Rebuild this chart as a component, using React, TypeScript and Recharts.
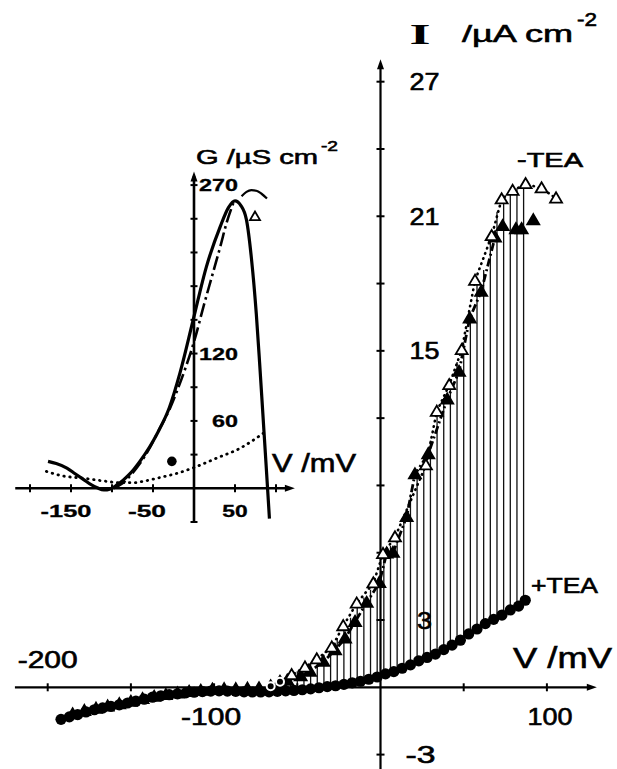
import React from "react";
import {
  ComposedChart,
  XAxis,
  YAxis,
  Scatter,
  Line,
  ErrorBar,
  ReferenceLine,
  ReferenceDot,
} from "recharts";

// ---------------- Main panel: I (µA cm^-2) vs V (mV) ----------------
const plusTeaV = [-192, -187, -182, -177, -172, -167, -162, -157, -152, -147, -142, -137, -132, -127, -122, -117, -112, -107, -102, -97, -92, -87, -82, -77, -72, -67, -62, -57, -52, -47, -42, -37, -32, -27, -22, -17, -12, -7, -2, 3, 8, 13, 18, 23, 28, 33, 38, 43, 48, 53, 58, 63, 68, 73, 78, 83, 87];
const plusTeaI = [-1.43, -1.32, -1.22, -1.1, -1.0, -0.92, -0.85, -0.78, -0.7, -0.62, -0.53, -0.44, -0.38, -0.33, -0.29, -0.25, -0.22, -0.19, -0.17, -0.16, -0.17, -0.18, -0.2, -0.21, -0.21, -0.2, -0.18, -0.16, -0.14, -0.11, -0.07, -0.02, 0.03, 0.07, 0.13, 0.2, 0.27, 0.36, 0.46, 0.6, 0.7, 0.85, 1.0, 1.18, 1.33, 1.48, 1.68, 1.88, 2.1, 2.38, 2.6, 2.84, 3.03, 3.22, 3.45, 3.62, 3.88];

const minusTeaFilledV = [-185, -178, -171, -164, -157, -150, -143, -136, -129, -122, -115, -108, -101, -94, -87, -80, -73, -66, -56, -48, -42.4, -34.4, -27.3, -21.3, -15.3, -8.3, -0.7, 3.7, 7.5, 15.7, 20.7, 28.7, 40.1, 47.2, 53.6, 60.5, 68.8, 73.4, 81.4, 84.8, 91.8];
const minusTeaFilledI = [-1.2, -1.05, -0.95, -0.85, -0.75, -0.64, -0.52, -0.42, -0.34, -0.27, -0.2, -0.15, -0.1, -0.08, -0.08, -0.06, -0.04, 0.05, 0.3, 0.5, 0.7, 1.14, 1.66, 2.18, 2.92, 3.77, 4.66, 5.97, 6.0, 7.6, 9.5, 10.4, 12.84, 14.07, 16.45, 17.64, 20.06, 20.57, 20.43, 20.43, 20.83];

const minusTeaOpenV = [-60.4, -53.4, -45.4, -38.3, -29.3, -22.4, -14.3, -4.3, 1.5, 8.7, 27.3, 33.8, 41.3, 48.8, 56.8, 66.8, 72.8, 79.4, 87.2, 96.8, 105.5];
const minusTeaOpenI = [0.25, 0.55, 0.89, 1.25, 1.78, 2.73, 3.74, 4.64, 5.95, 6.69, 9.9, 12.29, 13.48, 15.04, 18.13, 20.12, 21.76, 22.14, 22.44, 22.25, 21.8];

// vertical hatching between the +TEA and -TEA curves
const hatchV = [-62, -58, -54, -50, -46, -42, -38, -34, -30, -26, -22, -18, -14, -10, -6, -2, 2, 6, 10, 14, 18, 22, 26, 30, 34, 38, 42, 46, 50, 54, 58, 62, 66, 70, 74, 78, 82, 86];
const hatchLow = [-0.18, -0.17, -0.15, -0.13, -0.11, -0.07, -0.03, 0.01, 0.05, 0.09, 0.13, 0.19, 0.25, 0.31, 0.38, 0.45, 0.55, 0.65, 0.76, 0.88, 1.0, 1.12, 1.26, 1.38, 1.55, 1.7, 1.85, 2.0, 2.2, 2.45, 2.65, 2.82, 2.98, 3.12, 3.3, 3.48, 3.62, 3.8];
const hatchHigh = [0.2, 0.35, 0.55, 0.72, 0.87, 1.05, 1.25, 1.45, 1.72, 2.2, 2.7, 3.1, 3.7, 4.0, 4.35, 4.65, 5.9, 6.3, 6.8, 7.5, 8.6, 9.5, 9.9, 11.0, 12.3, 12.9, 13.6, 14.5, 15.3, 16.5, 18.0, 18.6, 20.1, 21.2, 21.8, 22.1, 22.25, 22.4];

const mainXTicks = [-200, -150, -100, -50, 50, 100];
const mainYTicks = [-3, 3, 6, 9, 12, 15, 18, 21, 24, 27];
const mainXLabels = ["-200", "-100", "100"];
const mainYLabels = ["27", "21", "15", "3", "-3"];

// ---------------- Inset: G (µS cm^-2) vs V (mV) ----------------
const solidV = [-178, -168, -155, -145, -135, -125, -118, -110, -102, -94, -86, -78, -66, -54, -44, -30, -17, -1, 15, 32, 42, 50, 57, 64, 70, 76, 80, 84, 88, 92];
const solidG = [24, 22, 18, 13, 8, 3, 0.5, -1.5, -0.5, 3, 7.5, 13, 24, 37, 50, 72, 103, 150, 197, 233, 250, 256, 252, 239, 205, 155, 112, 66, 20, -27];

const dashDotV = [-98, -88, -78, -66, -54, -42, -30, -20, -10, 1, 12, 22, 32, 40, 48];
const dashDotG = [0, 4, 11, 22, 36, 53, 70, 88, 108, 133, 163, 189, 215, 237, 254];

const dottedV = [-180, -160, -135, -110, -90, -74, -60, -45, -20, 0, 28, 56, 90];
const dottedG = [15, 11, 9, 6.5, 5, 5, 6.5, 9, 13.5, 18.5, 27, 35.6, 52];

const arcV = [58, 64, 70, 76, 82, 89];
const arcG = [260, 264, 265.5, 265, 262.5, 258];

const insetCircleV = [-27];
const insetCircleG = [24];
const insetTriangleV = [74.4];
const insetTriangleG = [242];

const insetXTicks = [-200, -150, -100, -50, 50, 100];
const insetYTicks = [-30, 30, 60, 90, 120, 150, 180, 210, 240, 270];
const insetXLabels = ["-150", "-50", "50"];
const insetYLabels = ["270", "120", "60"];

// ---------------- layout (pixels) ----------------
const W = 617;
const H = 769;
const M = { x0: 380.5, kx: 1.664, y0: 687.3, ky: 22.43 };
const mainXDomain: [number, number] = [-M.x0 / M.kx, (W - M.x0) / M.kx];
const mainYDomain: [number, number] = [(M.y0 - H) / M.ky, M.y0 / M.ky];

const IW = 360;
const IH = 380;
const ITOP = 150;
const N = { x0: 194, kx: 0.82, y0: 488.3 - ITOP, ky: 1.123 };
const insetXDomain: [number, number] = [-N.x0 / N.kx, (IW - N.x0) / N.kx];
const insetYDomain: [number, number] = [(N.y0 - IH) / N.ky, N.y0 / N.ky];

const mainXLabelOffset: Record<string, { dx: number; dy: number }> = {
  "-200": { dx: 0, dy: -19 },
  "-100": { dx: -3, dy: 38 },
  "100": { dx: 3, dy: 38 },
};
const mainYLabelOffset: Record<string, { dx: number; dy: number }> = {
  "27": { dx: 44, dy: 8.5 },
  "21": { dx: 44, dy: 8.5 },
  "15": { dx: 44, dy: 8.5 },
  "3": { dx: 44, dy: 8.5 },
  "-3": { dx: 40, dy: 8.5 },
};
const insetXLabelOffset: Record<string, { dx: number; dy: number }> = {
  "-150": { dx: -5, dy: 28.5 },
  "-50": { dx: -6, dy: 28.5 },
  "50": { dx: 0, dy: 28.5 },
};

const FONT = "'Liberation Sans', Arial, Helvetica, sans-serif";

const zip = (xs: number[], ys: number[]) => xs.map((x, i) => ({ x, y: ys[i] }));

// ---------------- shapes ----------------
const Nothing = () => <g />;

const triangle = (filled: boolean, s = 6) => (p: any) => {
  const { cx, cy } = p;
  if (cx == null || cy == null) return <g />;
  const pts = `${cx},${cy - s * 1.0} ${cx - s},${cy + s * 0.7} ${cx + s},${cy + s * 0.7}`;
  return (
    <polygon
      points={pts}
      fill={filled ? "#000" : "#fff"}
      stroke="#000"
      strokeWidth={1.8}
    />
  );
};

const dot = (r: number) => (p: any) => {
  const { cx, cy } = p;
  if (cx == null || cy == null) return <g />;
  return <circle cx={cx} cy={cy} r={r} fill="#000" />;
};

const vTick = (len: number, w: number) => (p: any) => (
  <line x1={p.cx} x2={p.cx} y1={p.cy - len} y2={p.cy + len} stroke="#000" strokeWidth={w} />
);
const hTick = (len: number, w: number) => (p: any) => (
  <line x1={p.cx - len} x2={p.cx + len} y1={p.cy} y2={p.cy} stroke="#000" strokeWidth={w} />
);

const textShape =
  (fontSize: number, charW: number, anchor: "start" | "middle" | "end", weight: string, sw: number) =>
  (p: any) => {
    const t = p.payload;
    return (
      <text
        x={p.cx + t.dx}
        y={p.cy + t.dy}
        fontSize={fontSize}
        fontFamily={FONT}
        fontWeight={weight}
        textAnchor={anchor}
        textLength={charW * t.text.length}
        lengthAdjust="spacingAndGlyphs"
        fill="#000"
        stroke="#000"
        strokeWidth={sw}
      >
        {t.text}
      </text>
    );
  };

const arrowUp = (p: any) => (
  <polygon
    points={`${p.cx},${p.cy} ${p.cx - 3.5},${p.cy + 10} ${p.cx + 3.5},${p.cy + 10}`}
    fill="#000"
  />
);
const arrowRight = (p: any) => (
  <polygon
    points={`${p.cx},${p.cy} ${p.cx - 10},${p.cy - 3.5} ${p.cx - 10},${p.cy + 3.5}`}
    fill="#000"
  />
);

// ---------------- derived series ----------------
const plusTea = zip(plusTeaV, plusTeaI);
const filledTri = zip(minusTeaFilledV, minusTeaFilledI);
const openTri = zip(minusTeaOpenV, minusTeaOpenI);
const dashDotMain = filledTri.filter((d) => d.x >= -66 && d.x <= 70);
const hatch = hatchV.map((v, i) => ({ x: v, y: hatchLow[i], e: [0, hatchHigh[i] - hatchLow[i]] }));

const mainXTickData = mainXTicks.map((v) => ({ x: v, y: 0 }));
const mainYTickData = mainYTicks.map((v) => ({ x: 0, y: v }));
const mainXLabelData = mainXLabels.map((t) => ({ x: Number(t), y: 0, text: t, ...mainXLabelOffset[t] }));
const mainYLabelData = mainYLabels.map((t) => ({ x: 0, y: Number(t), text: t, ...mainYLabelOffset[t] }));

const solid = zip(solidV, solidG);
const dashDot = zip(dashDotV, dashDotG);
const dotted = zip(dottedV, dottedG);
const arc = zip(arcV, arcG);
const insetCircle = zip(insetCircleV, insetCircleG);
const insetTriangle = zip(insetTriangleV, insetTriangleG);
const insetXTickData = insetXTicks.map((v) => ({ x: v, y: 0 }));
const insetYTickData = insetYTicks.map((v) => ({ x: 0, y: v }));
const insetXLabelData = insetXLabels.map((t) => ({ x: Number(t), y: 0, text: t, ...insetXLabelOffset[t] }));
const insetYLabelData = insetYLabels.map((t) => ({ x: 0, y: Number(t), text: t, dx: 44, dy: 6 }));

// axis extents (in data units)
const mainXAxisEnd = 130;
const mainXAxisStart = -219.7;
const mainYAxisTop = 28.0;
const insetXAxisStart = -218;
const insetXAxisEnd = 123;
const insetYAxisBottom = -31;
const insetYAxisTop = 282;

const TS = { stroke: "#000", strokeWidth: 0.6 };

export default function App() {
  return (
    <div
      style={{
        position: "absolute",
        left: 0,
        top: 0,
        width: W,
        height: H,
        background: "#fff",
        overflow: "hidden",
      }}
    >
      {/* main panel */}
      <div style={{ position: "absolute", left: 0, top: 0 }}>
        <ComposedChart width={W} height={H} margin={{ top: 0, right: 0, bottom: 0, left: 0 }}>
          <XAxis type="number" dataKey="x" domain={mainXDomain} allowDataOverflow hide />
          <YAxis type="number" dataKey="y" domain={mainYDomain} allowDataOverflow hide />
          <ReferenceLine
            segment={[{ x: mainXAxisStart, y: 0 }, { x: mainXAxisEnd - 4, y: 0 }]}
            stroke="#000"
            strokeWidth={2.2}
            ifOverflow="visible"
          />
          <ReferenceLine
            segment={[{ x: 0, y: mainYDomain[0] }, { x: 0, y: mainYAxisTop - 0.2 }]}
            stroke="#000"
            strokeWidth={2.2}
            ifOverflow="visible"
          />
          <Scatter data={mainXTickData} shape={vTick(4, 2)} isAnimationActive={false} />
          <Scatter data={mainYTickData} shape={hTick(4, 2)} isAnimationActive={false} />
          <Scatter data={mainXLabelData} shape={textShape(23, 15, "middle", "normal", 0.6)} isAnimationActive={false} />
          <Scatter data={mainYLabelData} shape={textShape(23, 15, "middle", "normal", 0.6)} isAnimationActive={false} />
          <Scatter data={hatch} shape={Nothing} isAnimationActive={false}>
            <ErrorBar dataKey="e" direction="y" width={0} stroke="#111" strokeWidth={1.3} isAnimationActive={false} />
          </Scatter>
          <Scatter data={plusTea} shape={dot(5.6)} isAnimationActive={false} />
          <Line
            data={openTri}
            dataKey="y"
            type="linear"
            stroke="#000"
            strokeWidth={2.6}
            strokeLinecap="round"
            strokeDasharray="0.5 5"
            dot={false}
            isAnimationActive={false}
          />
          <Line
            data={dashDotMain}
            dataKey="y"
            type="linear"
            stroke="#000"
            strokeWidth={2.8}
            strokeDasharray="8 3 2 3"
            dot={false}
            isAnimationActive={false}
          />
          <Scatter data={filledTri} shape={triangle(true)} isAnimationActive={false} />
          <Scatter data={openTri} shape={triangle(false)} isAnimationActive={false} />
          <ReferenceDot x={mainXAxisEnd} y={0} shape={arrowRight} ifOverflow="visible" />
          <ReferenceDot x={0} y={mainYAxisTop} shape={arrowUp} ifOverflow="visible" />
        </ComposedChart>
      </div>

      {/* inset panel */}
      <div style={{ position: "absolute", left: 0, top: ITOP }}>
        <ComposedChart width={IW} height={IH} margin={{ top: 0, right: 0, bottom: 0, left: 0 }}>
          <XAxis type="number" dataKey="x" domain={insetXDomain} allowDataOverflow hide />
          <YAxis type="number" dataKey="y" domain={insetYDomain} allowDataOverflow hide />
          <ReferenceLine
            segment={[{ x: insetXAxisStart, y: 0 }, { x: insetXAxisEnd - 6, y: 0 }]}
            stroke="#000"
            strokeWidth={2.6}
            ifOverflow="visible"
          />
          <ReferenceLine
            segment={[{ x: 0, y: insetYAxisBottom }, { x: 0, y: insetYAxisTop - 4 }]}
            stroke="#000"
            strokeWidth={2.6}
            ifOverflow="visible"
          />
          <Scatter data={insetXTickData} shape={vTick(4, 2)} isAnimationActive={false} />
          <Scatter data={insetYTickData} shape={hTick(3.5, 2)} isAnimationActive={false} />
          <Scatter data={insetXLabelData} shape={textShape(17, 12.7, "middle", "bold", 0.3)} isAnimationActive={false} />
          <Scatter data={insetYLabelData} shape={textShape(17, 13, "end", "bold", 0.3)} isAnimationActive={false} />
          <Line
            data={dotted}
            dataKey="y"
            type="monotone"
            stroke="#000"
            strokeWidth={2.8}
            strokeLinecap="round"
            strokeDasharray="0.5 5.5"
            dot={false}
            isAnimationActive={false}
          />
          <Line
            data={dashDot}
            dataKey="y"
            type="monotone"
            stroke="#000"
            strokeWidth={2.6}
            strokeDasharray="14 4 2.5 4"
            dot={false}
            isAnimationActive={false}
          />
          <Line
            data={solid}
            dataKey="y"
            type="monotone"
            stroke="#000"
            strokeWidth={3.2}
            dot={false}
            isAnimationActive={false}
          />
          <Line
            data={arc}
            dataKey="y"
            type="monotone"
            stroke="#000"
            strokeWidth={2.2}
            dot={false}
            isAnimationActive={false}
          />
          <Scatter data={insetCircle} shape={dot(4.8)} isAnimationActive={false} />
          <Scatter data={insetTriangle} shape={triangle(false, 5)} isAnimationActive={false} />
          <ReferenceDot x={insetXAxisEnd} y={0} shape={arrowRight} ifOverflow="visible" />
          <ReferenceDot x={0} y={insetYAxisTop} shape={arrowUp} ifOverflow="visible" />
        </ComposedChart>
      </div>

      {/* axis titles */}
      <svg
        width={W}
        height={H}
        style={{ position: "absolute", left: 0, top: 0, pointerEvents: "none" }}
      >
        <g fontFamily={FONT} fill="#000">
          <text x={420} y={44} textAnchor="middle" fontFamily="'Liberation Serif', 'DejaVu Serif', serif" fontWeight="bold" fontSize={30} textLength={21} lengthAdjust="spacingAndGlyphs">
            I
          </text>
          <text x={462} y={42} fontSize={24} textLength={111} lengthAdjust="spacingAndGlyphs" {...TS}>
            /µA cm
          </text>
          <text x={577} y={26} fontSize={18} textLength={20} lengthAdjust="spacingAndGlyphs" {...TS}>
            -2
          </text>
          <text x={517} y={167} fontSize={19.5} textLength={66} lengthAdjust="spacingAndGlyphs" {...TS}>
            -TEA
          </text>
          <text x={531} y={593} fontSize={22} textLength={67} lengthAdjust="spacingAndGlyphs" {...TS}>
            +TEA
          </text>
          <text x={513} y={668} fontSize={30} textLength={99} lengthAdjust="spacingAndGlyphs" {...TS}>
            V /mV
          </text>
          <text x={196} y={164} fontSize={21} textLength={122} lengthAdjust="spacingAndGlyphs" {...TS}>
            G /µS cm
          </text>
          <text x={321} y={151} fontSize={15} textLength={17} lengthAdjust="spacingAndGlyphs" {...TS}>
            -2
          </text>
          <text x={272} y={472} fontSize={25} textLength={84} lengthAdjust="spacingAndGlyphs" {...TS}>
            V /mV
          </text>
        </g>
      </svg>
    </div>
  );
}
